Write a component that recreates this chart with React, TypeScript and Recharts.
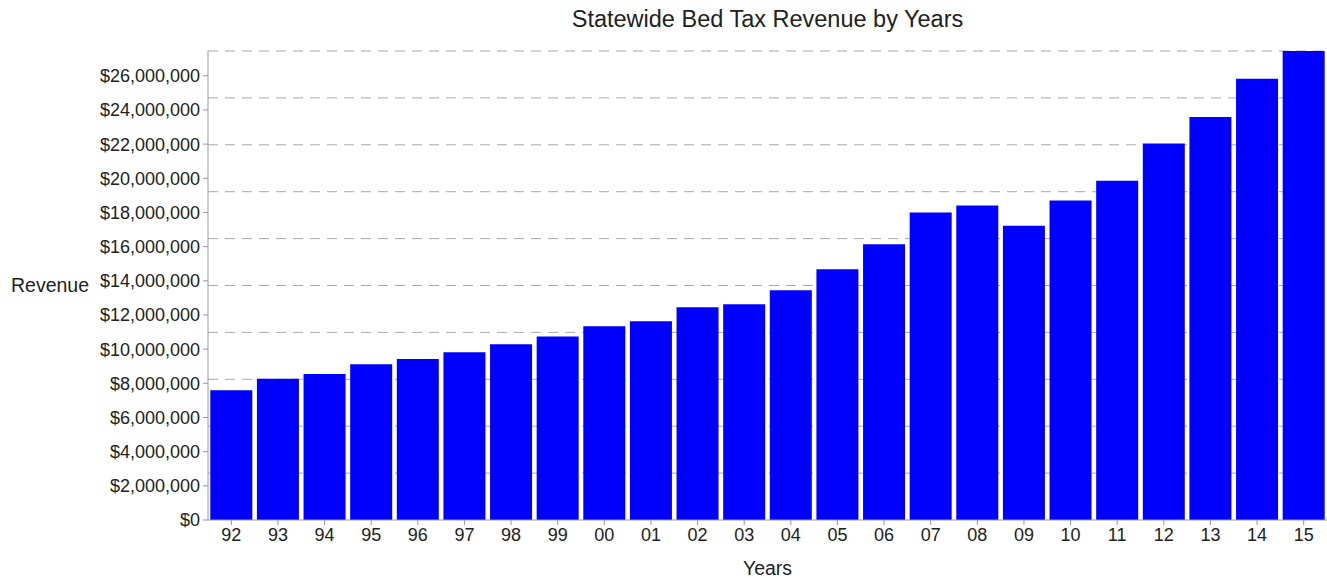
import React from "react";
import { Bar, BarChart, CartesianGrid, XAxis, YAxis } from "recharts";

const years = ["92", "93", "94", "95", "96", "97", "98", "99", "00", "01", "02", "03",
  "04", "05", "06", "07", "08", "09", "10", "11", "12", "13", "14", "15"];
const revenue = [7600000, 8260000, 8550000, 9120000, 9430000, 9820000, 10290000, 10740000,
  11340000, 11630000, 12450000, 12630000, 13450000, 14680000, 16140000, 18000000, 18410000,
  17220000, 18700000, 19850000, 22040000, 23580000, 25830000, 27450000];
const yTicks = [0, 2000000, 4000000, 6000000, 8000000, 10000000, 12000000, 14000000,
  16000000, 18000000, 20000000, 22000000, 24000000, 26000000];

const data = years.map((year, i) => ({ year, revenue: revenue[i] }));

const money = (v: number) => "$" + v.toLocaleString("en-US");

// grid is split in ten equal bands of the plot, not on the ticks
const gridRows = ({ offset }: any) =>
  [1, 2, 3, 4, 5, 6, 7, 8, 9, 10].map((k) => offset.top + offset.height * (1 - k / 10));

const font = "'Liberation Sans', Arial, Helvetica, sans-serif";

export default function App() {
  return (
    <div style={{ position: "absolute", left: 0, top: 0, width: 1327, height: 578, fontFamily: font }}>
      <div
        style={{
          position: "absolute",
          top: 6,
          left: 208,
          width: 1119,
          textAlign: "center",
          fontSize: 23.5,
          lineHeight: "27px",
          color: "#222",
        }}
      >
        Statewide Bed Tax Revenue by Years
      </div>
      <BarChart
        width={1327}
        height={578}
        data={data}
        margin={{ top: 51, right: 0, bottom: 0, left: 0 }}
        barCategoryGap={2.3}
        style={{ fontFamily: font }}
      >
        <CartesianGrid
          vertical={false}
          stroke="#aaa"
          strokeDasharray="10 7"
          horizontalCoordinatesGenerator={gridRows}
        />
        <XAxis
          dataKey="year"
          height={58}
          tickSize={5}
          tickMargin={3}
          stroke="#999"
          tick={{ fill: "#222", fontSize: 18 }}
          label={{ value: "Years", position: "insideBottom", offset: 3, fill: "#222", fontSize: 19.5 }}
        />
        <YAxis
          width={208}
          domain={[0, "dataMax"]}
          ticks={yTicks}
          interval={0}
          tickSize={5}
          tickMargin={3}
          stroke="#999"
          tickFormatter={money}
          tick={{ fill: "#222", fontSize: 18 }}
          label={{ value: "Revenue", position: "insideLeft", offset: 11, fill: "#222", fontSize: 19.5 }}
        />
        <Bar dataKey="revenue" fill="#0000ff" isAnimationActive={false} />
      </BarChart>
    </div>
  );
}
